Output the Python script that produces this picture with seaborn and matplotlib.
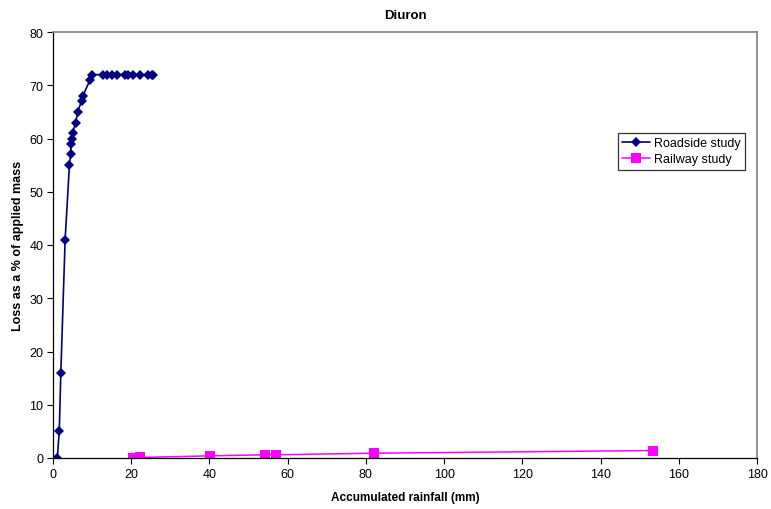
import matplotlib
matplotlib.use("Agg")
import matplotlib.pyplot as plt
import seaborn as sns
import pandas as pd

# Data
road_rain = [1.1, 1.6, 2.0, 3.1, 4.2, 4.5, 4.6, 4.8, 5.0, 5.8, 6.3, 7.3, 7.6, 9.5, 10.0,
             12.9, 13.7, 15.0, 16.3, 18.4, 19.3, 20.5, 22.2, 24.4, 25.2, 25.6]
road_loss = [0, 5, 16, 41, 55, 57, 59, 60, 61, 63, 65, 67, 68, 71, 72,
             72, 72, 72, 72, 72, 72, 72, 72, 72, 72, 72]
rail_rain = [20.5, 21.5, 22.2, 40.2, 54.2, 57.0, 82.0, 153.3]
rail_loss = [0.0, 0.05, 0.1, 0.4, 0.6, 0.6, 0.9, 1.4]

sns.set_theme(style="white")
plt.rcParams['font.family'] = ['Liberation Sans', 'DejaVu Sans']
plt.rcParams['text.color'] = 'black'
plt.rcParams['axes.labelcolor'] = 'black'
plt.rcParams['xtick.color'] = 'black'
plt.rcParams['ytick.color'] = 'black'

fig = plt.figure(figsize=(7.71, 5.10), dpi=100)
ax = fig.add_axes([53/771, 1 - 459/510, (757-53)/771, (459-33)/510])

df_road = pd.DataFrame({"x": road_rain, "y": road_loss})
df_rail = pd.DataFrame({"x": rail_rain, "y": rail_loss})

sns.lineplot(data=df_road, x="x", y="y", ax=ax, color="#000080", marker="D",
             markersize=5, markeredgewidth=0, linewidth=1.2, label="Roadside study",
             sort=False)
sns.lineplot(data=df_rail, x="x", y="y", ax=ax, color="#FF00FF", marker="s",
             markersize=6.5, markeredgewidth=0, linewidth=1.1, label="Railway study",
             sort=False)

ax.set_xlim(0, 180)
ax.set_ylim(0, 80)
ax.set_xticks(range(0, 181, 20))
ax.set_yticks(range(0, 81, 10))
ax.tick_params(axis="both", labelsize=9, length=4, direction="out",
               bottom=True, left=True, color="black", width=0.8, pad=3,
               labelcolor="black")
for s in ["left", "bottom"]:
    ax.spines[s].set_color("black")
    ax.spines[s].set_linewidth(0.9)
for s in ["top", "right"]:
    ax.spines[s].set_color("#808080")
    ax.spines[s].set_linewidth(1.2)

ax.set_title("Diuron", fontsize=9.5, fontweight="bold", pad=10, color="black")
ax.set_xlabel("Accumulated rainfall (mm)", fontsize=8.5, fontweight="bold",
              labelpad=8, color="black")
ax.set_ylabel("Loss as a % of applied mass", fontsize=9, fontweight="bold",
              labelpad=4, color="black")

leg = ax.legend(loc="upper left", bbox_to_anchor=((618-53)/704, 1 - (134-33)/426),
                fontsize=9, frameon=True, fancybox=False, borderpad=0.35,
                handlelength=2.2, handletextpad=0.3, labelspacing=0.3,
                borderaxespad=0)
leg.get_frame().set_edgecolor("black")
leg.get_frame().set_linewidth(0.9)
for t in leg.get_texts():
    t.set_color("black")

fig.savefig("out.png", dpi=100)
